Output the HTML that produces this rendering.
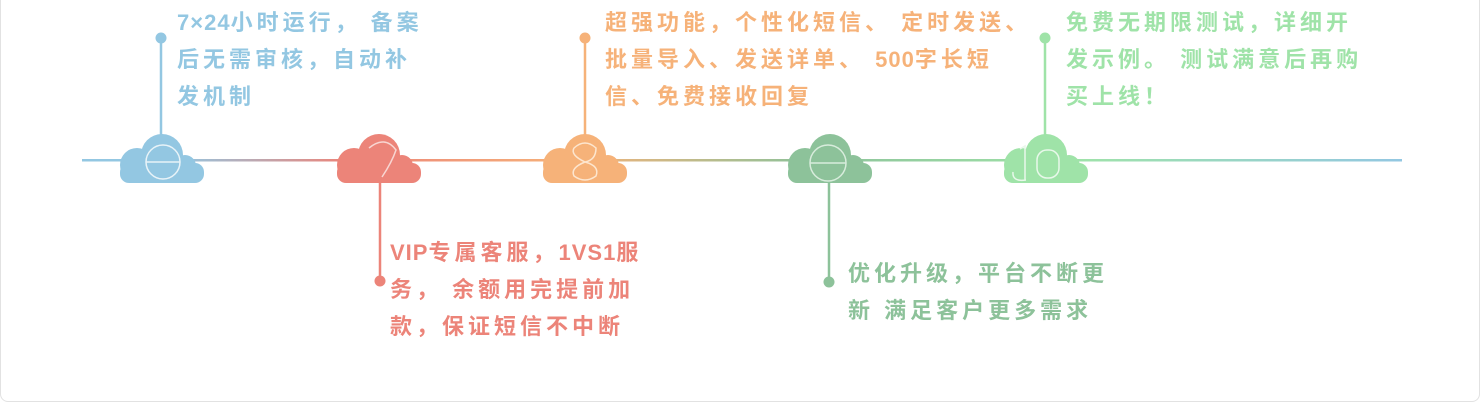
<!DOCTYPE html>
<html><head><meta charset="utf-8">
<style>
body{margin:0;background:#fff;width:1483px;height:414px;overflow:hidden;position:relative;font-family:"Liberation Sans","Noto Sans CJK SC",sans-serif;}
.card{position:absolute;left:0;top:-10px;width:1480px;height:412px;border:1px solid #e2e2e2;border-radius:8px;box-sizing:border-box;}
.t{position:absolute;font-size:22px;line-height:37px;letter-spacing:4px;font-weight:bold;white-space:nowrap;}
.l{letter-spacing:1px;}
</style></head><body>
<div class="card"></div>
<svg width="1483" height="414" style="position:absolute;left:0;top:0">
<defs>
<linearGradient id="g" x1="82" y1="0" x2="1402" y2="0" gradientUnits="userSpaceOnUse">
<stop offset="0.07" stop-color="#93c7e2"/>
<stop offset="0.2" stop-color="#ec8479"/>
<stop offset="0.37" stop-color="#f6b279"/>
<stop offset="0.55" stop-color="#8dc29a"/>
<stop offset="0.75" stop-color="#9fe3a8"/>
<stop offset="1" stop-color="#93c7e2"/>
</linearGradient>
<g id="cl"><circle cx="20" cy="32" r="17"/><circle cx="45" cy="22" r="21"/><circle cx="68" cy="33" r="11"/><rect x="3" y="30" width="84" height="20" rx="9"/></g>
</defs>
<rect x="82" y="159" width="1320" height="2.5" fill="url(#g)"/>
<g stroke-width="2.5">
<line x1="161" y1="38" x2="161" y2="140" stroke="#93c7e2"/>
<line x1="380" y1="175" x2="380" y2="281" stroke="#ec8479"/>
<line x1="585" y1="38" x2="585" y2="140" stroke="#f6b279"/>
<line x1="829" y1="175" x2="829" y2="282" stroke="#8dc29a"/>
<line x1="1045" y1="38" x2="1045" y2="140" stroke="#9fe3a8"/>
</g>
<circle cx="161" cy="38" r="5.5" fill="#93c7e2"/>
<circle cx="380" cy="281" r="5.5" fill="#ec8479"/>
<circle cx="585" cy="38" r="5.5" fill="#f6b279"/>
<circle cx="829" cy="282" r="5.5" fill="#8dc29a"/>
<circle cx="1045" cy="38" r="5.5" fill="#9fe3a8"/>
<use href="#cl" x="117" y="133" fill="#93c7e2"/>
<use href="#cl" x="334" y="133" fill="#ec8479"/>
<use href="#cl" x="540" y="133" fill="#f6b279"/>
<use href="#cl" x="785" y="133" fill="#8dc29a"/>
<use href="#cl" x="1001" y="133" fill="#9fe3a8"/>
<g fill="none" stroke="#e8f3f8" stroke-width="1.5">
<circle cx="163" cy="162" r="17" /><line x1="146" y1="162" x2="180" y2="162"/>
<path d="M369 148 Q385 135 396 150 Q392 162 382 177" stroke="#f8d6d2"/>
<path d="M574 148 Q585 138 596 148 Q596 160 585 162 Q570 168 574 176 Q585 184 596 176 Q600 166 585 162 Q570 155 574 148" stroke="#fde6cf"/>
<circle cx="828" cy="163" r="18" stroke="#d8ecdc"/><line x1="810" y1="163" x2="846" y2="163" stroke="#d8ecdc"/>
<path d="M1020 149 L1025 146 L1025 180 M1013 172 Q1012 182 1026 180" stroke="#e8f8ea"/>
<rect x="1037" y="150" width="22" height="28" rx="10" stroke="#e8f8ea"/>
</g>
</svg>
<div class="t" style="left:177px;top:4px;color:#93c7e2"><span class="l">7×24</span>小时运行， 备案<br>后无需审核，自动补<br>发机制</div>
<div class="t" style="left:390px;top:234px;color:#ec8479"><span class="l">VIP</span>专属客服，<span class="l">1VS1</span>服<br>务， 余额用完提前加<br>款，保证短信不中断</div>
<div class="t" style="left:605px;top:4px;color:#f6b279">超强功能，个性化短信、 定时发送、<br>批量导入、发送详单、 <span class="l">500</span>字长短<br>信、免费接收回复</div>
<div class="t" style="left:848px;top:255px;color:#8dc29a">优化升级，平台不断更<br>新 满足客户更多需求</div>
<div class="t" style="left:1066px;top:4px;color:#9fe3a8">免费无期限测试，详细开<br>发示例。 测试满意后再购<br>买上线！</div>
</body></html>
